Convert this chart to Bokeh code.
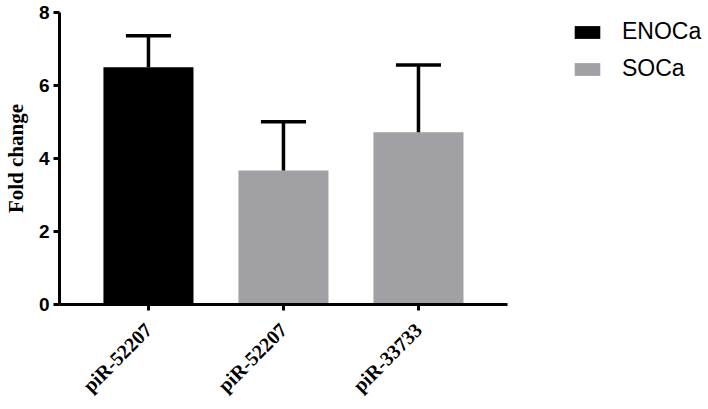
from bokeh.plotting import figure
from bokeh.models import ColumnDataSource, FixedTicker, Legend, LegendItem
from bokeh.embed import file_html
from bokeh.resources import INLINE
import math

# ---- data ----
categories = ["piR-52207", "piR-52207", "piR-33733"]
groups = ["ENOCa", "SOCa", "SOCa"]
means = [6.50, 3.67, 4.72]
errors = [0.86, 1.34, 1.84]
group_colors = {"ENOCa": "#000000", "SOCa": "#a1a0a4"}
y_ticks = [0, 2, 4, 6, 8]

xs = list(range(len(categories)))
bar_w = 0.667
cap_half = 0.167
src = ColumnDataSource(dict(
    x=xs,
    mean=means,
    upper=[m + e for m, e in zip(means, errors)],
    cap_l=[x - cap_half for x in xs],
    cap_r=[x + cap_half for x in xs],
    color=[group_colors[g] for g in groups],
    group=groups,
))

x_start = -0.659
frame_w = 645
x_end = x_start + frame_w / 135.0
frame_h = 292

p = figure(frame_width=frame_w, frame_height=frame_h,
           x_range=(x_start, x_end), y_range=(0, 8),
           output_backend="svg", toolbar_location=None,
           min_border_left=47, min_border_top=12, min_border_bottom=89,
           min_border_right=0)
p.outline_line_color = None
p.xgrid.visible = False
p.ygrid.visible = False
p.background_fill_color = None
p.border_fill_color = None

bars = p.vbar(x="x", top="mean", bottom=0, width=bar_w, source=src,
              fill_color="color", line_color=None)
p.segment(x0="x", y0="mean", x1="x", y1="upper", source=src,
          line_color="black", line_width=3.5, line_cap="butt")
p.segment(x0="cap_l", y0="upper", x1="cap_r", y1="upper", source=src,
          line_color="black", line_width=3.5, line_cap="butt")

# y axis
ya = p.yaxis[0]
ya.ticker = FixedTicker(ticks=y_ticks)
ya.bounds = (0, 8)
ya.axis_line_width = 3
ya.major_tick_line_width = 3
ya.major_tick_out = 6
ya.major_tick_in = 0
ya.minor_tick_line_color = None
ya.major_label_text_font = "Liberation Sans"
ya.major_label_text_font_style = "bold"
ya.major_label_text_font_size = "19px"
ya.major_label_text_color = "black"
ya.major_label_standoff = 4
ya.axis_label = "Fold change"
ya.axis_label_text_font = "Liberation Serif"
ya.axis_label_text_font_style = "bold"
ya.axis_label_text_font_size = "21px"
ya.axis_label_text_color = "black"
ya.axis_label_standoff = 8

# x axis
xa = p.xaxis[0]
xa.ticker = FixedTicker(ticks=xs)
xa.major_label_overrides = {i: c for i, c in zip(xs, categories)}
xa.bounds = (x_start, 2.66)
xa.axis_line_width = 3
xa.major_tick_line_width = 3
xa.major_tick_out = 6
xa.major_tick_in = 0
xa.minor_tick_line_color = None
xa.major_label_orientation = math.pi / 4
xa.major_label_text_font = "Liberation Serif"
xa.major_label_text_font_style = "bold"
xa.major_label_text_font_size = "20px"
xa.major_label_text_color = "black"
xa.major_label_standoff = 16

# legend (one entry per group)
items = [
    LegendItem(label="ENOCa", renderers=[bars], index=0),
    LegendItem(label="SOCa", renderers=[bars], index=1),
]
legend = Legend(items=items, location=(512, frame_h - 70),
                glyph_width=32, glyph_height=16, label_height=24,
                spacing=10, padding=0, margin=0, label_standoff=19,
                label_text_font="Liberation Sans", label_text_font_size="23px",
                label_text_color="black",
                border_line_color=None, background_fill_alpha=0)
p.add_layout(legend)

open("out.html", "w").write(file_html(p, INLINE))
